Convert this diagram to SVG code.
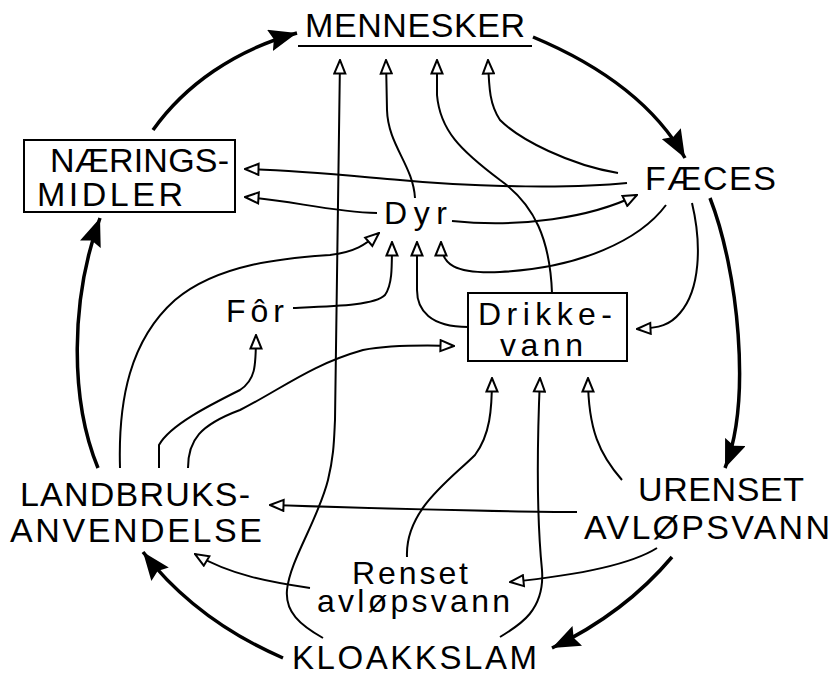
<svg xmlns="http://www.w3.org/2000/svg" width="832" height="675" viewBox="0 0 832 675">
<style>
text{font-family:"Liberation Sans",Arial,sans-serif;fill:#000}
.cap{font-size:34px}
.low{font-size:32px}
.box{fill:none;stroke:#000;stroke-width:2}
.thin{fill:none;stroke:#000;stroke-width:2;marker-end:url(#open)}
.thick{fill:none;stroke:#000;stroke-width:3.5;marker-end:url(#solid)}
</style>
<defs>
<marker id="open" viewBox="0 0 16 14" refX="15" refY="7" markerWidth="16" markerHeight="14" markerUnits="userSpaceOnUse" orient="auto">
<path d="M1.5,1.5 L15,7 L1.5,12.5 Z" fill="#fff" stroke="#000" stroke-width="2" stroke-linejoin="miter"/>
</marker>
<marker id="solid" viewBox="0 0 28 22" refX="28" refY="11" markerWidth="28" markerHeight="22" markerUnits="userSpaceOnUse" orient="auto">
<path d="M0,0 L28,11 L0,22 L4,11 Z" fill="#000"/>
</marker>
</defs>
<rect width="832" height="675" fill="#fff"/>

<g id="connectors">
<!-- thick cycle -->
<path class="thick" d="M153,130 C185,85 235,50 297,33"/>
<path class="thick" d="M533,37 C600,65 655,105 685,158"/>
<path class="thick" d="M710,198 C738,270 752,400 725,468"/>
<path class="thick" d="M672,557 C640,595 600,625 552,648"/>
<path class="thick" d="M283,658 C230,635 180,600 143,552"/>
<path class="thick" d="M98,468 C70,400 70,300 100,218"/>
<!-- to MENNESKER -->
<path class="thin" d="M323,638 C300,625 285,612 287,590 C290,560 318,520 328,480 C334,455 334,440 335,420 L340,60"/>
<path class="thin" d="M415,198 C413,165 388,145 387,110 L386,60"/>
<path class="thin" d="M552,293 C550,240 535,205 500,180 C460,150 440,130 437,95 L437,60"/>
<path class="thin" d="M618,173 C570,165 520,140 500,120 C490,105 489,90 488,60"/>
<!-- to NÆRINGSMIDLER -->
<path class="thin" d="M627,183 C580,188 480,188 400,180 C330,174 290,170 245,169"/>
<path class="thin" d="M377,213 C330,212 290,200 245,197"/>
<!-- Dyr / FÆCES -->
<path class="thin" d="M452,221 C520,228 590,218 637,195"/>
<path class="thin" d="M666,205 C640,240 580,268 500,272 C455,274 441,265 441,242"/>
<path class="thin" d="M468,327 C430,327 417,310 417,290 L417,242"/>
<path class="thin" d="M293,308 C340,306 375,305 385,295 C392,285 392,270 392,242"/>
<path class="thin" d="M120,468 C118,400 130,340 175,300 C220,262 290,258 330,255 C355,252 365,245 379,233"/>
<!-- from LANDBRUKS -->
<path class="thin" d="M159,468 L159,445 C170,425 210,405 240,390 C255,380 256,368 256,335"/>
<path class="thin" d="M188,468 C188,440 200,425 240,410 C280,390 310,365 363,350 C390,345 420,345 454,346"/>
<!-- to Drikkevann -->
<path class="thin" d="M692,203 C702,245 700,290 680,313 C670,325 660,328 637,329"/>
<path class="thin" d="M622,480 C600,455 588,430 588,378"/>
<path class="thin" d="M500,637 C520,625 545,610 542,570 C538,530 536,470 540,378"/>
<path class="thin" d="M407,557 C405,510 450,480 475,455 C490,435 492,410 492,378"/>
<!-- lower -->
<path class="thin" d="M577,512 C500,512 400,509 270,505"/>
<path class="thin" d="M657,548 C630,565 580,575 510,582"/>
<path class="thin" d="M310,588 C270,582 230,575 195,554"/>
</g>

<g id="mennesker">
<text class="cap" x="305" y="37" textLength="220">MENNESKER</text>
<line x1="298" y1="46" x2="532" y2="46" stroke="#000" stroke-width="2"/>
</g>
<g id="naeringsmidler">
<rect class="box" x="24" y="140" width="211" height="72"/>
<text class="cap" x="50" y="172" textLength="179">NÆRINGS-</text>
<text class="cap" x="37" y="206" textLength="146">MIDLER</text>
</g>
<g id="faeces">
<text class="cap" x="645" y="190" textLength="131">FÆCES</text>
</g>
<g id="dyr">
<text class="low" x="384" y="224" textLength="63">Dyr</text>
</g>
<g id="for">
<text class="low" x="226" y="322" textLength="58">Fôr</text>
</g>
<g id="drikkevann">
<rect class="box" x="468" y="293" width="159" height="68"/>
<text x="478" y="325" font-size="32" textLength="134">Drikke-</text>
<text x="500" y="356" font-size="32" textLength="83">vann</text>
</g>
<g id="landbruksanvendelse">
<text class="cap" x="20" y="506" textLength="230">LANDBRUKS-</text>
<text class="cap" x="10" y="542" textLength="252">ANVENDELSE</text>
</g>
<g id="urenset">
<text class="cap" x="638" y="501" textLength="166">URENSET</text>
<text class="cap" x="584" y="539" textLength="246">AVLØPSVANN</text>
</g>
<g id="renset">
<text class="low" x="352" y="584" textLength="116">Renset</text>
<text class="low" x="317" y="612" textLength="193">avløpsvann</text>
</g>
<g id="kloakkslam">
<text x="292" y="669" font-size="33" textLength="245">KLOAKKSLAM</text>
</g>
</svg>
